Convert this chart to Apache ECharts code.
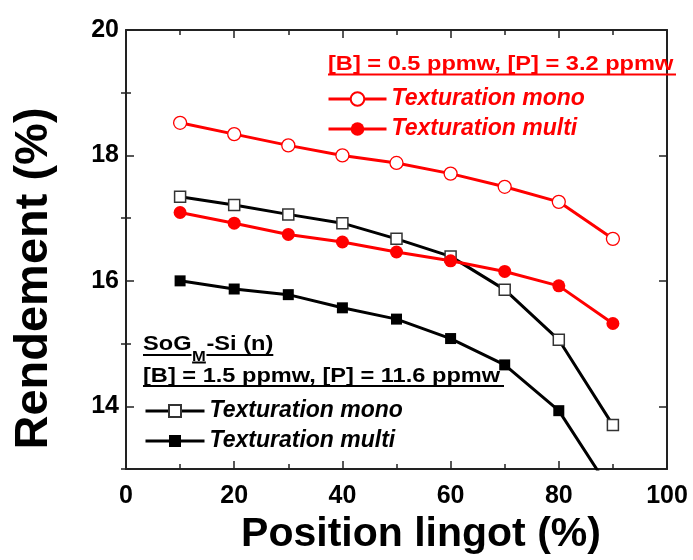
<!DOCTYPE html>
<html>
<head>
<meta charset="utf-8">
<script src="https://cdn.jsdelivr.net/npm/echarts@6/dist/echarts.min.js"></script>
<style>html,body{margin:0;padding:0;background:#fff}#c{width:693px;height:560px}</style>
</head>
<body>
<div id="c"></div>
<script>
// ---- data ----
const positions = [10, 20, 30, 40, 50, 60, 70, 80, 90];
const redMono = [18.52, 18.34, 18.16, 18.00, 17.88, 17.71, 17.50, 17.26, 16.67];
const redMulti = [17.09, 16.92, 16.74, 16.62, 16.46, 16.32, 16.15, 15.92, 15.32];
const blackMono = [17.34, 17.21, 17.06, 16.92, 16.67, 16.39, 15.86, 15.06, 13.70];
const blackMulti = [16.00, 15.87, 15.78, 15.57, 15.39, 15.08, 14.66, 13.93, 12.60];
const yMajorTicks = [14, 16, 18, 20];
const yMinorTicks = [13, 15, 17, 19];
const seriesLabels = {
  m05: 'Texturation mono', u05: 'Texturation multi',
  m15: 'Texturation mono', u15: 'Texturation multi'
};
const redHeader = '[B] = 0.5 ppmw, [P] = 3.2 ppmw';
const blackHeader = '[B] = 1.5 ppmw, [P] = 11.6 ppmw';

const FONT = '"Liberation Sans", Arial, sans-serif';
const pairs = arr => positions.map((x, i) => [x, arr[i]]);

// measure text for the subscript header
const cv = document.createElement('canvas').getContext('2d');
function tw(txt, f) { cv.font = f; return cv.measureText(txt).width; }
const fMain = 'bold 20px ' + FONT;
const fSub = 'bold 14px ' + FONT;
const wSoG = tw('SoG', fMain), wM = tw('M', fSub), wRest = tw('-Si (n)', fMain);
const SX = 1.18;

const axisLineStyle = { color: '#222', width: 2 };
const legendText = c => ({ color: c, fontSize: 23, fontWeight: 'bold', fontStyle: 'italic', fontFamily: FONT, lineHeight: 24 });

const chart = echarts.init(document.getElementById('c'), null, { renderer: 'canvas' });
chart.setOption({
  animation: false,
  backgroundColor: '#fff',
  grid: { left: 126, right: 26, top: 30, bottom: 89, containLabel: false },
  xAxis: [
    {
      type: 'value', min: 0, max: 100, interval: 20, position: 'bottom',
      axisLine: { show: true, onZero: false, lineStyle: axisLineStyle },
      axisTick: { show: true, inside: true, length: 8, lineStyle: { color: '#222', width: 1.5 } },
      minorTick: { show: true, splitNumber: 2, length: 5, lineStyle: { color: '#222', width: 1.5 } },
      splitLine: { show: false }, minorSplitLine: { show: false },
      axisLabel: { margin: 15, fontSize: 25, fontWeight: 'bold', color: '#000', fontFamily: FONT },
      name: 'Position lingot (%)', nameLocation: 'middle', nameGap: 45,
      nameTextStyle: { fontSize: 41, fontWeight: 'bold', color: '#000', fontFamily: FONT, padding: [0, 0, 0, 49] }
    },
    {
      type: 'value', min: 0, max: 100, interval: 20, position: 'top',
      axisLine: { show: true, onZero: false, lineStyle: axisLineStyle },
      axisTick: { show: true, inside: true, length: 8, lineStyle: { color: '#222', width: 1.5 } },
      minorTick: { show: true, splitNumber: 2, length: 5, lineStyle: { color: '#222', width: 1.5 } },
      splitLine: { show: false }, axisLabel: { show: false }
    }
  ],
  yAxis: [
    {
      type: 'value', min: 13, max: 20, position: 'left',
      axisLine: { show: true, onZero: false, lineStyle: axisLineStyle },
      axisTick: { show: true, inside: true, length: 8, customValues: yMajorTicks, lineStyle: { color: '#222', width: 1.5 } },
      splitLine: { show: false },
      axisLabel: { margin: 7, fontSize: 25, fontWeight: 'bold', color: '#000', fontFamily: FONT, customValues: yMajorTicks },
      name: 'Rendement (%)', nameLocation: 'middle', nameGap: 68,
      nameTextStyle: { fontSize: 47, fontWeight: 'bold', color: '#000', fontFamily: FONT, padding: [0, 58, 0, 0] }
    },
    {
      type: 'value', min: 13, max: 20, position: 'left',
      axisLine: { show: false },
      axisTick: { show: true, inside: true, length: 5, customValues: yMinorTicks, lineStyle: { color: '#222', width: 1.5 } },
      splitLine: { show: false }, axisLabel: { show: false }
    },
    {
      type: 'value', min: 13, max: 20, position: 'right',
      axisLine: { show: true, onZero: false, lineStyle: axisLineStyle },
      axisTick: { show: true, inside: true, length: 8, customValues: yMajorTicks, lineStyle: { color: '#222', width: 1.5 } },
      splitLine: { show: false }, axisLabel: { show: false }
    },
    {
      type: 'value', min: 13, max: 20, position: 'right',
      axisLine: { show: false },
      axisTick: { show: true, inside: true, length: 5, customValues: yMinorTicks, lineStyle: { color: '#222', width: 1.5 } },
      splitLine: { show: false }, axisLabel: { show: false }
    }
  ],
  legend: [
    {
      data: ['m05', 'u05'], orient: 'vertical', left: 327, top: 87, padding: 0,
      itemWidth: 58, itemHeight: 17, itemGap: 6, selectedMode: false,
      lineStyle: { width: 3 },
      formatter: n => seriesLabels[n],
      textStyle: legendText('#ff0000')
    },
    {
      data: ['m15', 'u15'], orient: 'vertical', left: 144, top: 399, padding: 0,
      itemWidth: 59, itemHeight: 15, itemGap: 6, selectedMode: false,
      lineStyle: { width: 3 },
      formatter: n => seriesLabels[n],
      textStyle: legendText('#000')
    }
  ],
  series: [
    {
      name: 'm15', type: 'line', data: pairs(blackMono), symbol: 'rect', symbolSize: 11,
      lineStyle: { color: '#000', width: 3 },
      itemStyle: { color: '#fff', borderColor: '#333', borderWidth: 1.5 }, z: 2
    },
    {
      name: 'u15', type: 'line', data: pairs(blackMulti), symbol: 'rect', symbolSize: 11,
      lineStyle: { color: '#000', width: 3 },
      itemStyle: { color: '#000', borderColor: '#000', borderWidth: 0 }, z: 2
    },
    {
      name: 'm05', type: 'line', data: pairs(redMono), symbol: 'circle', symbolSize: 13,
      lineStyle: { color: '#ff0000', width: 3 },
      itemStyle: { color: '#fff', borderColor: '#ff0000', borderWidth: 1.3 }, z: 3
    },
    {
      name: 'u05', type: 'line', data: pairs(redMulti), symbol: 'circle', symbolSize: 13,
      lineStyle: { color: '#ff0000', width: 3 },
      itemStyle: { color: '#ff0000', borderColor: '#ff0000', borderWidth: 0 }, z: 3
    }
  ],
  graphic: [
    {
      type: 'text', x: 328, y: 64, scaleX: SX, z: 100,
      style: { x: 0, y: 0, text: redHeader, font: fMain, fill: '#ff0000', verticalAlign: 'middle', align: 'left' }
    },
    { type: 'line', z: 100, shape: { x1: 328, y1: 74.5, x2: 676, y2: 74.5 }, style: { stroke: '#ff0000', lineWidth: 2 } },
    {
      type: 'group', x: 143, y: 344, scaleX: SX, z: 100,
      children: [
        { type: 'text', style: { x: 0, y: 0, text: 'SoG', font: fMain, fill: '#000', verticalAlign: 'middle' } },
        { type: 'text', style: { x: wSoG + 0.5, y: 13, text: 'M', font: fSub, fill: '#000', verticalAlign: 'middle' } },
        { type: 'text', style: { x: wSoG + wM + 1, y: 0, text: '-Si (n)', font: fMain, fill: '#000', verticalAlign: 'middle' } },
        { type: 'line', shape: { x1: 0, y1: 11, x2: wSoG, y2: 11 }, style: { stroke: '#000', lineWidth: 2 } },
        { type: 'line', shape: { x1: wSoG + 0.5, y1: 18.5, x2: wSoG + wM + 0.5, y2: 18.5 }, style: { stroke: '#000', lineWidth: 2 } },
        { type: 'line', shape: { x1: wSoG + wM + 1, y1: 11, x2: wSoG + wM + 1 + wRest, y2: 11 }, style: { stroke: '#000', lineWidth: 2 } }
      ]
    },
    {
      type: 'text', x: 143, y: 376, scaleX: SX, z: 100,
      style: { x: 0, y: 0, text: blackHeader, font: fMain, fill: '#000', verticalAlign: 'middle', align: 'left' }
    },
    { type: 'line', z: 100, shape: { x1: 143, y1: 386, x2: 504, y2: 386 }, style: { stroke: '#000', lineWidth: 2 } }
  ]
});
</script>
</body>
</html>
